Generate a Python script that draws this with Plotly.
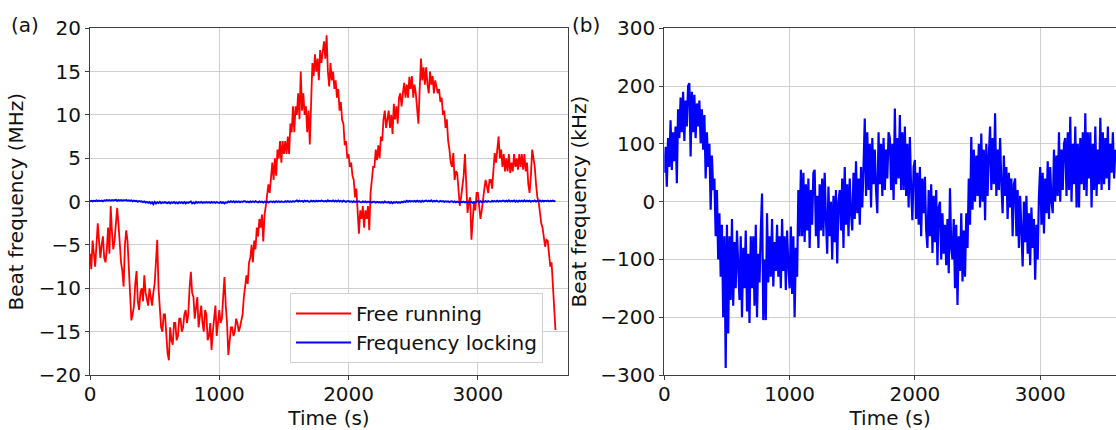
import plotly.graph_objects as go

STEP = 10  # seconds between samples

# Free running beat frequency (MHz), one value every 10 s from t = 0 to 3600 s
free_running = [
    -6, -7.8, -4.5, -6, -7.5, -5, -2.5, -4.5, -6.5, -5,
    -4, -6.5, -7, -5.5, -3, -6, -0.5, -3.5, -5.5, -4.5,
    -3, -0.7, -2.5, -5, -7, -8, -9.8, -5, -3.3, -4.5,
    -8, -11, -13.7, -13, -12, -9.5, -8, -11.5, -12.5, -10.5,
    -10, -11.5, -8.5, -10.5, -11.5, -12, -10, -11, -12, -10.5,
    -9.5, -7, -4.4, -10, -12.5, -14.5, -15, -13, -13, -16,
    -17.5, -18.3, -14.5, -16, -16.5, -14, -14, -16, -15.5, -13.5,
    -13.5, -15, -14.5, -13, -12.5, -14, -13, -10, -8.1, -10.5,
    -11, -13.5, -12.5, -11, -14.5, -13, -12, -14, -15, -12.5,
    -13, -16, -15.5, -14, -17.1, -15, -13.5, -12, -15.5, -14,
    -12.5, -14, -13.5, -11, -8.7, -12, -14, -17.7, -16, -14.5,
    -14.5, -15.5, -15, -13.5, -14, -15, -14.5, -13.5, -13, -11,
    -10, -8.5, -9.5, -7, -6.5, -5, -7, -4.5, -5.5, -3,
    -4, -2, -3, -1.5, -4.6, -1.5, -0.5, 0.5, 2, 1,
    3, 4.5, 2.5, 5, 3, 6, 5, 7, 4.5, 7,
    5.5, 7, 5.5, 7.5, 5.5, 9, 8, 11, 8, 11,
    10, 12.5, 9.5, 15, 10.5, 12.5, 10, 11, 8, 10.5,
    6.6, 13, 16, 14.5, 17, 15, 16.5, 14, 17.5, 16,
    17, 18.5, 16.5, 19.2, 15, 13.3, 16, 14, 15, 13,
    14, 12, 13, 10.5, 11.5, 9.4, 9, 6.5, 7, 5,
    5.5, 4, 4.5, 3, 2.5, 0.5, 1.5, -1.5, -3.7, -1,
    -2, -0.5, -3, -1, -2, -0.5, -3.3, 1, 2.5, 4,
    4, 6, 4.8, 6.5, 5, 7.5, 7, 9.5, 10.5, 8.5,
    9.5, 10.5, 8.5, 10, 7.8, 11.3, 9.5, 11, 9, 12,
    12.5, 11, 12.5, 13.7, 12, 13.5, 12, 14.4, 13, 14.5,
    12, 13.5, 12.5, 11, 9, 13, 16.5, 14, 15.5, 13.5,
    15.5, 13.5, 12.5, 15, 13.5, 14.5, 12.5, 14, 13, 12.5,
    13, 11.5, 12, 10, 10.5, 8.5, 9.5, 7, 6, 4.5,
    4, 5.6, 2.5, 3.5, 3.3, 1, -0.5, 0.5, 1.5, 3,
    5.5, 2, -1.3, 0, 0.5, -4.4, -2, 0, -1, 1,
    1, -0.5, -2, -1, 0.5, 1.5, 2.5, 1.5, 1, 2.5,
    2.5, 1.5, 4, 5.6, 4.5, 6, 7.5, 5, 6, 4,
    5.5, 3.5, 5, 3.5, 5.5, 3.3, 4.5, 3.5, 5.5, 4,
    5, 3.7, 5.5, 4, 5.5, 3.7, 5.5, 3.5, 4.5, 2,
    1, 3, 6, 5, 4, 2, 0.5, 0, -1.3, -2.5,
    -3, -4.5, -5.2, -4.4, -4.5, -6, -7.5, -7, -10, -12,
    -14.8,
]

# Frequency-locked beat frequency (kHz), one value every 10 s from t = 0 to 3600 s
locked_khz = [
    50, 95, 26, 110, 60, 141, 55, 120, 70, 130,
    32, 160, 110, 180, 120, 190, 105, 175, 130, 200,
    205, 78, 190, 120, 185, 110, 170, 130, 175, 101,
    160, 90, 150, 40, 120, 60, 100, -14, 80, 20,
    40, -60, 20, -100, -20, -130, -40, -200, -60, -288,
    -40, -228, -60, -170, -30, -180, -70, -150, -50, -130,
    -170, -60, -200, -80, -150, -50, -190, -90, -210, -60,
    -150, -60, -180, -40, -200, -90, -140, -50, 14, -205,
    -100, -205, -20, -140, -60, -130, -30, -147, -70, -120,
    -40, -130, -60, -150, -30, -120, -60, -153, -50, -110,
    -150, -43, -160, -60, -200, -80, -130, 20, -60, 55,
    -60, 50, -70, 30, -50, 40, -80, 20, -40, 50,
    55, -60, 10, -80, 30, -50, 40, -60, 50, -30,
    -90, 26, -60, 0, -100, 10, -70, 20, -107, 0,
    20, -50, 40, -80, 60, -40, 30, -60, 40, -20,
    -50, 50, -30, 70, -20, 40, -40, 60, -10, 60,
    144, 10, 120, 20, 100, -10, 110, 30, 90, 20,
    -20, 120, 30, 100, 10, 110, 20, 90, 40, 120,
    110, 20, 100, 3, 161, 30, 110, 40, 150, 20,
    120, 20, 130, 10, 100, -10, 112, 20, -32, 60,
    72, -30, 50, -40, 60, -60, 40, -20, 43, -50,
    -80, 20, -60, 30, -89, 10, -70, 20, -110, -10,
    0, -100, -20, -90, -40, -110, -30, -124, 23, -80,
    -100, -30, -150, -40, -179, -60, -120, -20, -138, -50,
    -130, -20, -80, 40, -40, 112, -14, 90, 0, 80,
    10, 100, -10, 118, 0, 90, -32, 100, 10, 80,
    130, 20, 110, 30, 153, 10, 90, 20, 110, 30,
    -20, 80, 10, 60, -30, 50, -10, 40, -60, 30,
    40, -60, 20, -80, 10, -50, -112, 0, -70, 10,
    -90, -20, -110, -10, -80, -30, -135, -40, -100, 10,
    60, -40, 50, -55, 40, -20, 70, -30, 60, 0,
    -20, 90, 0, 80, 10, 120, 0, 90, 20, 100,
    110, 10, 120, 20, 147, 0, 100, 30, 130, -10,
    100, -10, 110, 30, 120, 20, 153, 10, 120, 40,
    120, -10, 100, 20, 130, 10, 90, 30, 145, 20,
    120, 30, 110, 40, 130, 20, 100, 50, 120, 40,
    90,
]

time_free = [i * STEP for i in range(len(free_running))]
time_locked = [i * STEP for i in range(len(locked_khz))]
locked_mhz = [v / 1000 for v in locked_khz]

x_ticks = [0, 1000, 2000, 3000]
y1_ticks = [-20, -15, -10, -5, 0, 5, 10, 15, 20]
y2_ticks = [-300, -200, -100, 0, 100, 200, 300]

FONT = "DejaVu Sans"
FS = 20
RED = "#ff0000"
BLUE = "#0000ff"
GRID = "#cfcfcf"
LINE = "#404040"
TXT = "#111111"

fig = go.Figure()
fig.add_trace(go.Scatter(x=time_free, y=free_running, mode="lines",
                         line=dict(color=RED, width=1.8), name="Free running",
                         xaxis="x", yaxis="y"))
fig.add_trace(go.Scatter(x=time_locked, y=locked_mhz, mode="lines",
                         line=dict(color=BLUE, width=1.9), name="Frequency locking",
                         xaxis="x", yaxis="y"))
fig.add_trace(go.Scatter(x=time_locked, y=locked_khz, mode="lines",
                         line=dict(color=BLUE, width=2.2), showlegend=False,
                         xaxis="x2", yaxis="y2"))

axis_common = dict(showgrid=True, gridcolor=GRID, gridwidth=1,
                   showline=True, linecolor=LINE, linewidth=1,
                   ticks="outside", ticklen=4, tickcolor=LINE,
                   zeroline=False, automargin=False,
                   tickfont=dict(family=FONT, size=FS, color=TXT))

ybot = (430 - 375) / 430
ytop = (430 - 28.3) / 430
title_font = dict(family=FONT, size=FS, color=TXT)

fig.update_layout(
    width=1116, height=430,
    margin=dict(l=0, r=0, t=0, b=0),
    paper_bgcolor="white", plot_bgcolor="white",
    font=dict(family=FONT, size=FS, color=TXT),
    xaxis=dict(domain=[90 / 1116, 568 / 1116], range=[0, 3697], tickvals=x_ticks,
               mirror=True, anchor="y", ticklabelstandoff=-3,
               title=dict(text="Time (s)", font=title_font, standoff=4),
               **axis_common),
    yaxis=dict(domain=[ybot, ytop], range=[-20, 20], tickvals=y1_ticks,
               mirror=True, anchor="x",
               title=dict(text="Beat frequency (MHz)", font=title_font, standoff=9),
               **axis_common),
    xaxis2=dict(domain=[664.3 / 1116, 1.0], range=[0, 3605], tickvals=x_ticks,
                mirror=True, anchor="y2", ticklabelstandoff=-3,
                title=dict(text="Time (s)", font=title_font, standoff=4),
                **axis_common),
    yaxis2=dict(domain=[ybot, ytop], range=[-300, 300], tickvals=y2_ticks,
                mirror=False, anchor="x2",
                title=dict(text="Beat frequency (kHz)", font=title_font, standoff=8),
                **axis_common),
    legend=dict(x=543 / 1116, xanchor="right", y=(430 - 363) / 430, yanchor="bottom",
                bgcolor="rgba(255,255,255,0.85)", bordercolor="#d0d0d0", borderwidth=1,
                font=dict(family=FONT, size=FS, color=TXT),
                itemwidth=55, tracegroupgap=0),
    annotations=[
        dict(text="(a)", x=9 / 1116, y=(430 - 25) / 430, xref="paper", yref="paper",
             xanchor="left", yanchor="middle", showarrow=False, font=title_font),
        dict(text="(b)", x=570 / 1116, y=(430 - 25) / 430, xref="paper", yref="paper",
             xanchor="left", yanchor="middle", showarrow=False, font=title_font),
    ],
)

fig.write_html("out.html", config={"displayModeBar": False},
               post_script="document.body.style.margin='0px';")
